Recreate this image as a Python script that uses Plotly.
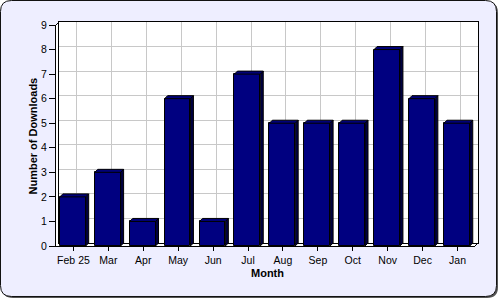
import plotly.graph_objects as go

# ---- data ----
months = ["Feb 25", "Mar", "Apr", "May", "Jun", "Jul", "Aug", "Sep", "Oct", "Nov", "Dec", "Jan"]
downloads = [2, 3, 1, 6, 1, 7, 5, 5, 5, 8, 6, 5]
y_ticks = list(range(0, 10))

# ---- geometry (pixels, 500x300 canvas) ----
W, H = 500, 300
FRONT_L, FRONT_R, FRONT_T, FRONT_B = 56, 475, 25, 246
DEPTH = 3
X_RANGE = [-0.5, len(months) - 0.5]
Y_RANGE = [0, 9]

px_per_x = (FRONT_R - FRONT_L) / (X_RANGE[1] - X_RANGE[0])
px_per_y = (FRONT_B - FRONT_T) / (Y_RANGE[1] - Y_RANGE[0])
dx = DEPTH / px_per_x
dy = DEPTH / px_per_y

BAR_OFF = -0.39
BAR_W = 0.74
FRONT_C = "#000080"
TOP_C = "#000078"
SIDE_C = "#000040"
FONT = "Liberation Sans, Arial, sans-serif"

fig = go.Figure()

# invisible trace for back wall subplot (x/y)
fig.add_trace(go.Scatter(x=[None], y=[None], xaxis="x", yaxis="y", showlegend=False, hoverinfo="skip"))

# 3D side and top faces computed from data
xs_side, ys_side, xs_top, ys_top = [], [], [], []
for i, v in enumerate(downloads):
    x0 = i + BAR_OFF
    x1 = x0 + BAR_W
    xs_side += [x1, x1 + dx, x1 + dx, x1, x1, None]
    ys_side += [0, dy, v + dy, v, 0, None]
    xs_top += [x0, x1, x1 + dx, x0 + dx, x0, None]
    ys_top += [v, v, v + dy, v + dy, v, None]

fig.add_trace(go.Scatter(x=xs_side, y=ys_side, xaxis="x2", yaxis="y2", mode="lines",
                         fill="toself", fillcolor=SIDE_C, line=dict(color="black", width=1),
                         showlegend=False, hoverinfo="skip", cliponaxis=False))
fig.add_trace(go.Scatter(x=xs_top, y=ys_top, xaxis="x2", yaxis="y2", mode="lines",
                         fill="toself", fillcolor=TOP_C, line=dict(color="black", width=1),
                         showlegend=False, hoverinfo="skip", cliponaxis=False))
fig.add_trace(go.Bar(x=list(range(len(months))), y=downloads, xaxis="x2", yaxis="y2",
                     width=BAR_W, offset=BAR_OFF,
                     marker=dict(color=FRONT_C, line=dict(color="black", width=1)),
                     showlegend=False, cliponaxis=False))

# ---- rounded background ----
def P(x, y):
    return f"{x / W:.5f},{1 - y / H:.5f}"

def rrect(x0, y0, x1, y1, r):
    return (f"M {P(x0 + r, y0)} L {P(x1 - r, y0)} Q {P(x1, y0)} {P(x1, y0 + r)} "
            f"L {P(x1, y1 - r)} Q {P(x1, y1)} {P(x1 - r, y1)} "
            f"L {P(x0 + r, y1)} Q {P(x0, y1)} {P(x0, y1 - r)} "
            f"L {P(x0, y0 + r)} Q {P(x0, y0)} {P(x0 + r, y0)} Z")

def prect(x0, y0, x1, y1, color):
    return dict(type="rect", xref="paper", yref="paper", layer="below",
                x0=x0 / W, x1=x1 / W, y0=1 - y1 / H, y1=1 - y0 / H,
                fillcolor=color, line=dict(width=0))

shapes = [
    dict(type="path", xref="paper", yref="paper", layer="below",
         path=rrect(2, 2, 498, 298, 11), fillcolor="#555555", line=dict(width=0)),
    dict(type="path", xref="paper", yref="paper", layer="below",
         path=rrect(0.5, 0.5, 496.5, 296.5, 11), fillcolor="#EEEEFF",
         line=dict(color="#111111", width=1)),
    # white walls (front plane and back wall)
    prect(FRONT_L, FRONT_T, FRONT_R, FRONT_B, "white"),
    prect(FRONT_L + DEPTH, FRONT_T - DEPTH, FRONT_R + DEPTH, FRONT_B - DEPTH, "white"),
    # 3D corner connectors
    dict(type="line", xref="paper", yref="paper", layer="above",
         x0=FRONT_L / W, y0=1 - FRONT_T / H, x1=(FRONT_L + DEPTH) / W, y1=1 - (FRONT_T - DEPTH) / H,
         line=dict(color="black", width=1)),
    dict(type="line", xref="paper", yref="paper", layer="above",
         x0=FRONT_R / W, y0=1 - FRONT_B / H, x1=(FRONT_R + DEPTH) / W, y1=1 - (FRONT_B - DEPTH) / H,
         line=dict(color="black", width=1)),
]

tickfont = dict(family=FONT, size=10.5, color="black")
titlefont = dict(family=FONT, size=11, color="black", weight="bold")

fig.update_layout(
    width=W, height=H,
    margin=dict(l=0, r=0, t=0, b=0, autoexpand=False),
    paper_bgcolor="white",
    plot_bgcolor="rgba(0,0,0,0)",
    bargap=0,
    shapes=shapes,
    # back wall
    xaxis=dict(domain=[(FRONT_L + DEPTH) / W, (FRONT_R + DEPTH) / W], anchor="y",
               range=X_RANGE, tickvals=list(range(len(months))), showticklabels=False,
               ticks="", showgrid=True, gridcolor="#C8C8C8", gridwidth=1,
               showline=True, mirror=True, linecolor="black", linewidth=1,
               zeroline=False, fixedrange=True, automargin=False),
    yaxis=dict(domain=[1 - (FRONT_B - DEPTH) / H, 1 - (FRONT_T - DEPTH) / H], anchor="x",
               range=Y_RANGE, tickvals=y_ticks, showticklabels=False, ticks="",
               showgrid=True, gridcolor="#C8C8C8", gridwidth=1,
               showline=True, mirror=True, linecolor="black", linewidth=1,
               zeroline=False, fixedrange=True, automargin=False),
    # front plane
    xaxis2=dict(domain=[FRONT_L / W, FRONT_R / W], anchor="y2",
                range=X_RANGE, tickvals=list(range(len(months))), ticktext=months,
                ticks="outside", ticklen=4, tickcolor="black", tickfont=tickfont,
                showgrid=False, showline=True, linecolor="black", linewidth=1,
                zeroline=False, fixedrange=True, automargin=False),
    yaxis2=dict(domain=[1 - FRONT_B / H, 1 - FRONT_T / H], anchor="x2",
                range=Y_RANGE, tickvals=y_ticks, ticks="outside", ticklen=6,
                tickcolor="black", tickfont=tickfont,
                showgrid=False, showline=True, linecolor="black", linewidth=1,
                zeroline=False, fixedrange=True, automargin=False),
    annotations=[
        dict(text="Month", xref="paper", yref="paper", x=(FRONT_L + FRONT_R + DEPTH) / 2 / W,
             y=1 - 272.5 / H, showarrow=False, font=titlefont, xanchor="center", yanchor="middle"),
        dict(text="Number of Downloads", xref="paper", yref="paper", x=32 / W, y=1 - 136.5 / H,
             textangle=-90, showarrow=False, font=titlefont, xanchor="center", yanchor="middle"),
    ],
)

fig.write_html("out.html")
